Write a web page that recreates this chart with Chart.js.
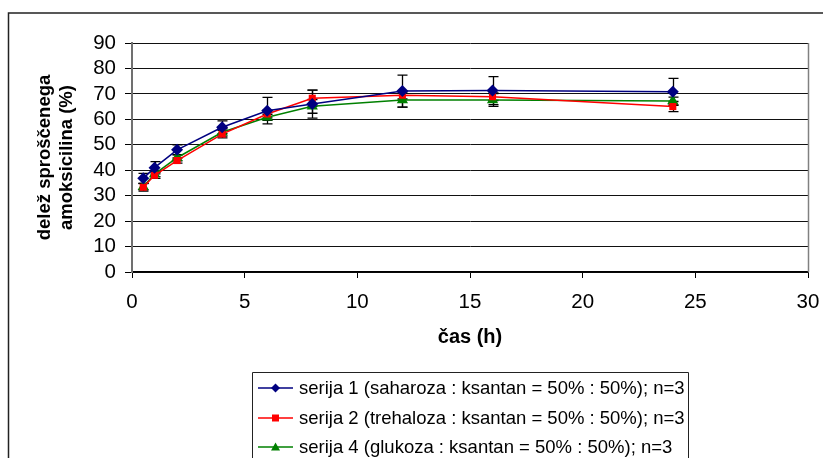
<!DOCTYPE html>
<html>
<head>
<meta charset="utf-8">
<script src="https://cdn.jsdelivr.net/npm/chart.js@4/dist/chart.umd.min.js"></script>
<style>
html,body{margin:0;padding:0;background:#fff;overflow:hidden;}
canvas{display:block;}
</style>
</head>
<body>
<canvas id="c" width="823" height="458"></canvas>
<script>
const timeH = [0.5, 1, 2, 4, 6, 8, 12, 16, 24];
const serija1 = [36.8, 41.0, 48.0, 56.9, 63.4, 66.0, 71.1, 71.3, 70.8];
const serija2 = [33.3, 38.0, 43.8, 54.2, 62.1, 68.3, 69.5, 68.9, 65.0];
const serija4 = [33.5, 38.5, 44.9, 54.9, 60.8, 65.1, 67.6, 67.6, 67.2];
const err1 = [2.0, 2.4, 2.0, 2.5, 5.2, 5.5, 6.3, 5.5, 5.3];
const err2 = [1.5, 1.2, 1.0, 1.5, 1.5, 3.2, 1.5, 1.5, 2.0];
const err4 = [1.2, 1.0, 1.2, 1.5, 1.2, 2.7, 2.8, 2.5, 1.5];
const seriesLabels = [
  'serija 1 (saharoza : ksantan = 50% : 50%); n=3',
  'serija 2 (trehaloza : ksantan = 50% : 50%); n=3',
  'serija 4 (glukoza : ksantan = 50% : 50%); n=3'
];
const xTitle = 'čas (h)';
const yTitle = ['delež sproščenega', 'amoksicilina (%)'];

const FONT = "'Liberation Sans', Arial, sans-serif";
const FS = 18.5;
const TICK_FS = 20.5;

function pts(vals){ return vals.map((v,i)=>({x: timeH[i], y: v})); }

const errs = [err1, err2, err4];

const frameAndBars = {
  id: 'frameAndBars',
  beforeDraw(chart){
    const ctx = chart.ctx;
    ctx.save();
    ctx.fillStyle = '#fff';
    ctx.fillRect(0,0,chart.width,chart.height);
    ctx.strokeStyle = '#222';
    ctx.lineWidth = 1.5;
    ctx.strokeRect(8.5, 13, 1000, 1000);
    ctx.restore();
  },
  beforeDatasetsDraw(chart){
    const ctx = chart.ctx;
    const a = chart.chartArea;
    const xs = chart.scales.x, ys = chart.scales.y;
    ctx.save();
    ctx.strokeStyle = '#808080';
    ctx.lineWidth = 1.5;
    ctx.beginPath();
    ctx.moveTo(Math.round(a.right)+0.5, a.top);
    ctx.lineTo(Math.round(a.right)+0.5, a.bottom);
    ctx.stroke();
    ctx.strokeStyle = '#000';
    ctx.lineWidth = 1.3;
    chart.data.datasets.forEach((ds, di) => {
      ds.data.forEach((p, i) => {
        const e = errs[di][i];
        const px = Math.round(xs.getPixelForValue(p.x)) + 0.5;
        const yt = ys.getPixelForValue(p.y + e);
        const yb = ys.getPixelForValue(p.y - e);
        ctx.beginPath();
        ctx.moveTo(px, yt); ctx.lineTo(px, yb);
        ctx.moveTo(px-5, yt); ctx.lineTo(px+5, yt);
        ctx.moveTo(px-5, yb); ctx.lineTo(px+5, yb);
        ctx.stroke();
      });
    });
    ctx.restore();
  },
  afterDraw(chart){
    const ctx = chart.ctx;
    ctx.save();
    const L = 252.5, T = 372.5, R = 688.5;
    ctx.strokeStyle = '#222';
    ctx.lineWidth = 1;
    ctx.beginPath();
    ctx.moveTo(L, 470); ctx.lineTo(L, T); ctx.lineTo(R, T); ctx.lineTo(R, 470);
    ctx.stroke();
    const rows = [388, 418, 447];
    chart.data.datasets.forEach((ds, i) => {
      const y = rows[i];
      ctx.strokeStyle = ds.borderColor;
      ctx.lineWidth = 1.5;
      ctx.beginPath();
      ctx.moveTo(258, y); ctx.lineTo(293, y);
      ctx.stroke();
      ctx.fillStyle = ds.borderColor;
      const cx = 275.5;
      ctx.beginPath();
      if (ds.pointStyle === 'rectRot') {
        ctx.moveTo(cx, y-4.5); ctx.lineTo(cx+4.5, y); ctx.lineTo(cx, y+4.5); ctx.lineTo(cx-4.5, y);
      } else if (ds.pointStyle === 'rect') {
        ctx.rect(cx-3.5, y-3.5, 7, 7);
      } else {
        ctx.moveTo(cx, y-4.5); ctx.lineTo(cx+4.5, y+3.5); ctx.lineTo(cx-4.5, y+3.5);
      }
      ctx.closePath();
      ctx.fill();
      ctx.fillStyle = '#000';
      ctx.font = FS + 'px ' + FONT;
      ctx.textBaseline = 'middle';
      ctx.textAlign = 'left';
      ctx.fillText(ds.label, 299, y + 1);
    });
    ctx.restore();
  }
};

new Chart(document.getElementById('c'), {
  type: 'line',
  data: {
    datasets: [
      { label: seriesLabels[0], data: pts(serija1), borderColor: '#000080', backgroundColor: '#000080',
        pointStyle: 'rectRot', pointRadius: 6, pointBorderWidth: 0, borderWidth: 1.5 },
      { label: seriesLabels[1], data: pts(serija2), borderColor: '#FF0000', backgroundColor: '#FF0000',
        pointStyle: 'rect', pointRadius: 5, pointBorderWidth: 0, borderWidth: 1.5 },
      { label: seriesLabels[2], data: pts(serija4), borderColor: '#008000', backgroundColor: '#008000',
        pointStyle: 'triangle', pointRadius: 6.5, pointBorderWidth: 0, borderWidth: 1.5 }
    ]
  },
  options: {
    responsive: false,
    animation: false,
    events: [],
    layout: { padding: { left: 0, right: 15, top: 43, bottom: 108 } },
    plugins: { legend: { display: false }, tooltip: { enabled: false } },
    scales: {
      x: {
        type: 'linear', min: 0, max: 30,
        afterFit: (s) => { s.height = 78; s.paddingRight = 12; s.paddingLeft = 0; },
        ticks: { stepSize: 5, autoSkip: false, color: '#000', padding: 12, font: { family: FONT, size: TICK_FS } },
        grid: { drawOnChartArea: false, tickLength: 6, color: '#000', lineWidth: 1 },
        border: { color: '#000', width: 1.5 },
        title: { display: true, text: xTitle, color: '#000', padding: { top: 0, bottom: 1 },
                 font: { family: FONT, size: 20, weight: 'bold' } }
      },
      y: {
        min: 0, max: 90,
        afterFit: (s) => { s.width = 132; },
        ticks: { stepSize: 10, autoSkip: false, color: '#000', padding: 9, font: { family: FONT, size: TICK_FS } },
        grid: { color: '#111', lineWidth: 1, tickLength: 7, tickColor: '#000' },
        border: { color: '#707070', width: 2 },
        title: { display: true, text: yTitle, color: '#000', padding: { top: 34, bottom: 0 },
                 font: { family: FONT, size: FS, weight: 'bold', lineHeight: 1.2 } }
      }
    }
  },
  plugins: [frameAndBars]
});
</script>
</body>
</html>
